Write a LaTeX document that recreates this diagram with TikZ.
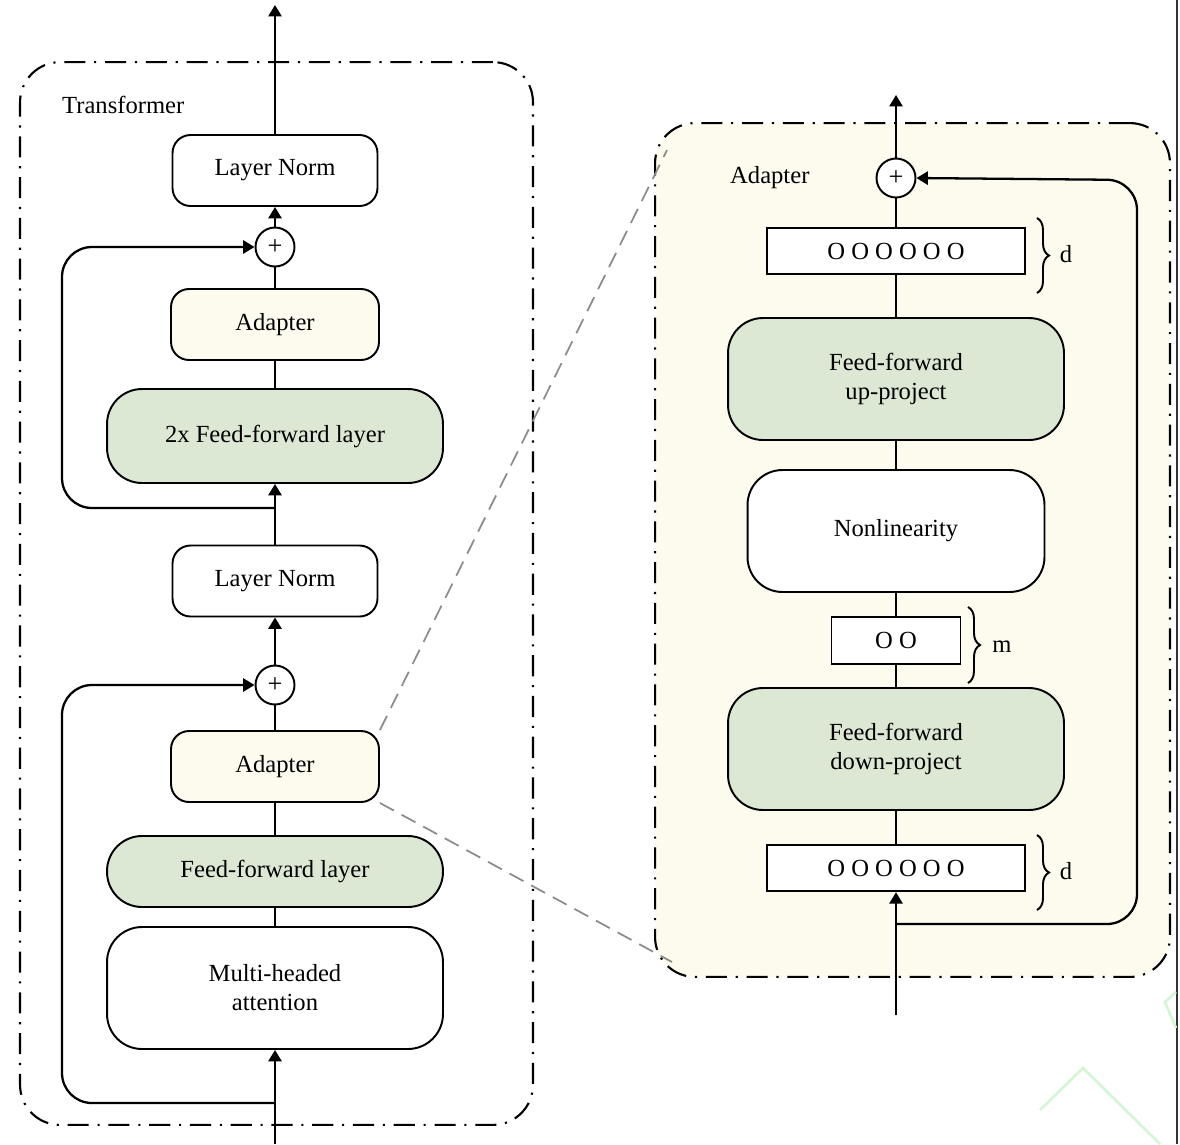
\documentclass[tikz,border=0pt]{standalone}
\usepackage{fontspec}
\setmainfont{Liberation Serif}
\usetikzlibrary{positioning, arrows.meta, decorations.pathreplacing}
\definecolor{ad-green}{HTML}{DCE8D4}
\definecolor{ad-cream}{HTML}{FDFBEE}
\definecolor{ad-gray}{HTML}{8C8C8C}
\definecolor{ad-mark}{HTML}{D2F7D2}

\begin{document}
\begin{tikzpicture}[x=0.02cm, y=-0.02cm,
    every node/.style={font=\fontsize{14}{16.5}\selectfont},
    block/.style={draw, line width=1.1pt, rounded corners=0.36cm, inner sep=0pt, align=center},
    small/.style={block, minimum width=4.1cm, minimum height=1.42cm},
    big/.style={block, rounded corners=0.7cm, minimum width=6.72cm, minimum height=2.44cm},
    vec/.style={draw, line width=1.1pt, fill=white, inner sep=0pt, minimum height=0.93cm},
    addop/.style={draw, circle, line width=1.1pt, fill=white, minimum size=0.78cm, inner sep=0pt,
                  font=\fontsize{15}{15}\selectfont},
    frame/.style={draw, line width=1.2pt, rounded corners=0.8cm,
                  dash pattern=on 12pt off 5pt on 1.2pt off 5pt, inner sep=0pt},
    arr/.style={-{Triangle[length=6.5pt, width=7.5pt]}, line width=1.3pt},
    link/.style={line width=1.3pt},
    skip/.style={arr, rounded corners=0.6cm},
    zoomline/.style={ad-gray, line width=1pt, dash pattern=on 9pt off 5pt},
    brc/.style={decorate, decoration={brace, amplitude=0.24cm}, line width=1.1pt},
]
    \useasboundingbox (0,0) rectangle (1180,1144);

    % Frames
    \node[frame, minimum width=10.26cm, minimum height=21.26cm] (trf) at (276.5,593.5) {};
    \node[frame, fill=ad-cream, minimum width=10.3cm, minimum height=17.08cm] (panel) at (912.5,550) {};
    \node[anchor=west] (trfLbl) at (56,105) {Transformer};
    \node[anchor=west] (panelLbl) at (724,178) {Adapter};

    % Transformer layer
    \node[small] (lnTop) at (275,170.5) {Layer Norm};
    \node[addop] (addTop) at (275,247) {+};
    \node[small, fill=ad-cream, minimum width=4.16cm] (adpTop) at (275,324.5) {Adapter};
    \node[big, fill=ad-green, minimum height=1.88cm] (ffTwo) at (275,436) {2x Feed-forward layer};
    \node[small] (lnMid) at (275,581) {Layer Norm};
    \node[addop] (addMid) at (275,685) {+};
    \node[small, fill=ad-cream, minimum width=4.16cm] (adpMid) at (275,766.5) {Adapter};
    \node[big, fill=ad-green, minimum height=1.42cm] (ffOne) at (275,871.5) {Feed-forward layer};
    \node[big] (mha) at (275,988) {Multi-headed\\attention};

    % Adapter layer
    \node[addop] (add) at (896,178) {+};
    \node[vec, minimum width=5.16cm] (dUp) at (896,251) {O O O O O O};
    \node[big, fill=ad-green] (ffUp) at (896,379) {Feed-forward\\up-project};
    \node[big, fill=white, minimum width=5.94cm] (nonlin) at (896,531) {Nonlinearity};
    \node[vec, minimum width=2.58cm] (mBox) at (896,640.5) {O O};
    \node[big, fill=ad-green] (ffDown) at (896,749) {Feed-forward\\down-project};
    \node[vec, minimum width=5.16cm] (dIn) at (896,868) {O O O O O O};

    % Sizes
    \draw[brc] (1037,218) -- (1037,293);
    \node (dTopLbl) at (1066,254) {d};
    \draw[brc] (968,607) -- (968,683);
    \node (mLbl) at (1002,647) {m};
    \draw[brc] (1037,835) -- (1037,910);
    \node (dInLbl) at (1066,871) {d};

    % Zoom lines
    \coordinate (zoomA) at (667,150);
    \coordinate (zoomB) at (672,962);
    \draw[zoomline] (adpMid.north east) -- (zoomA);
    \draw[zoomline] (adpMid.south east) -- (zoomB);

    % Transformer connectors
    \coordinate (outL) at (275,5);
    \coordinate (inL) at (275,1144);
    \coordinate (splitTop) at (275,508);
    \coordinate (splitMid) at (275,1103);
    \draw[arr] (lnTop) -- (outL);
    \draw[arr] (addTop) -- (lnTop);
    \draw[link] (adpTop) -- (addTop);
    \draw[link] (ffTwo) -- (adpTop);
    \draw[arr] (lnMid) -- (ffTwo);
    \draw[arr] (addMid) -- (lnMid);
    \draw[link] (adpMid) -- (addMid);
    \draw[link] (ffOne) -- (adpMid);
    \draw[link] (mha) -- (ffOne);
    \draw[arr] (inL) -- (mha);
    \draw[skip] (splitTop) -- (62,508) -- (62,247) -- (addTop.west);
    \draw[skip] (splitMid) -- (62,1103) -- (62,685) -- (addMid.west);

    % Adapter connectors
    \coordinate (outR) at (896,95);
    \coordinate (inR) at (896,1015);
    \coordinate (splitR) at (896,924);
    \draw[arr] (add) -- (outR);
    \draw[link] (dUp) -- (add);
    \draw[link] (ffUp) -- (dUp);
    \draw[link] (nonlin) -- (ffUp);
    \draw[link] (mBox) -- (nonlin);
    \draw[link] (ffDown) -- (mBox);
    \draw[link] (dIn) -- (ffDown);
    \draw[arr] (inR) -- (dIn);
    \draw[skip] (splitR) -- (1137,924) -- (1137,180) -- (add.east);

    % Edge and watermark
    \draw[line width=1.2pt, black!80] (1177,0) -- (1177,1144);
    \draw[ad-mark, line width=1.5pt] (1040,1110) -- (1083,1068) -- (1160,1144);
    \draw[ad-mark, line width=1.5pt] (1176,992) -- (1165,1002) -- (1176,1028);
\end{tikzpicture}
\end{document}
